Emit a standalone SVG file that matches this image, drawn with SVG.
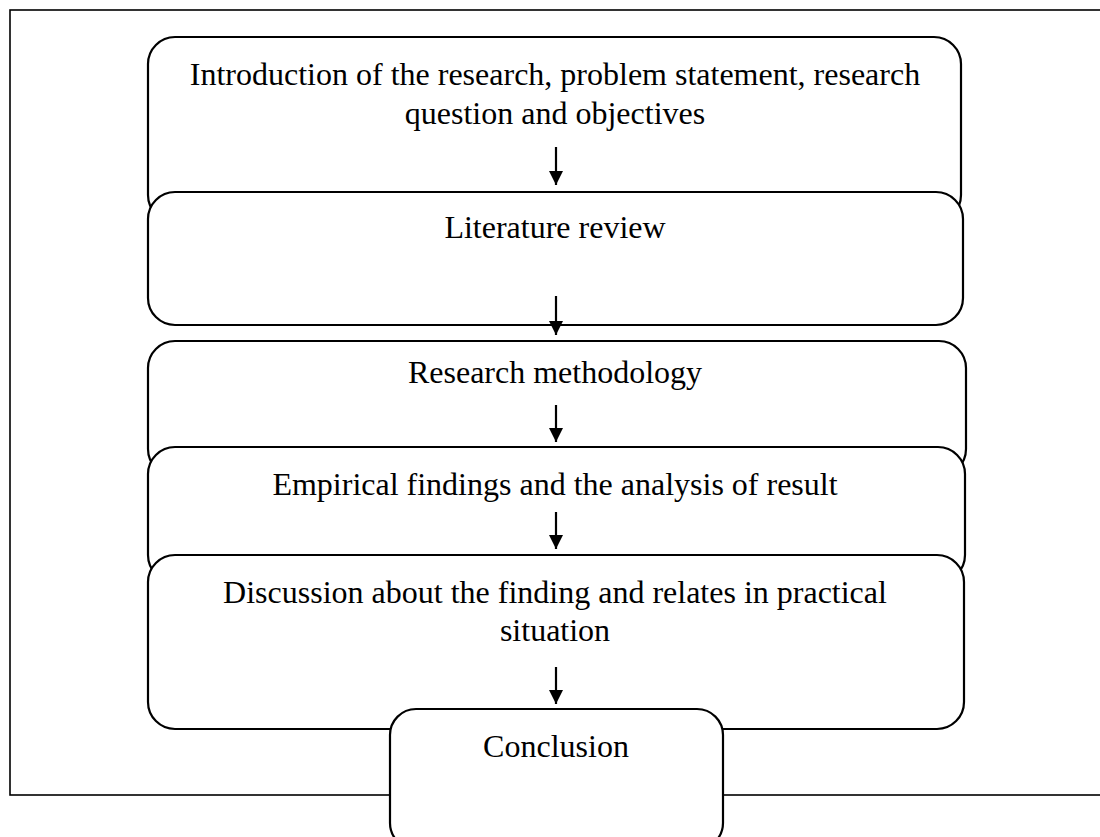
<svg xmlns="http://www.w3.org/2000/svg" width="1100" height="837" viewBox="0 0 1100 837">
<style>
.box{fill:#fff;stroke:#000;stroke-width:2.2}
.frame{fill:none;stroke:#000;stroke-width:1.6}
.t{font-family:"Liberation Serif","Times New Roman",serif;font-size:32px;fill:#000;text-anchor:middle}
.arr{stroke:#000;stroke-width:2.2;fill:none}
</style>
<defs>
<marker id="ah" viewBox="0 0 14 14" refX="14" refY="7" markerWidth="14" markerHeight="14" markerUnits="userSpaceOnUse" orient="auto">
<path d="M0,0 L14,7 L0,14 Z" fill="#000"/>
</marker>
</defs>
<rect class="frame" x="10" y="10" width="1100" height="785"/>
<g id="n1"><rect class="box" x="148" y="37" width="813" height="185" rx="27"/>
<text class="t" x="555" y="85">Introduction of the research, problem statement, research</text>
<text class="t" x="555" y="124">question and objectives</text></g>
<g id="n2"><rect class="box" x="148" y="192" width="815" height="133" rx="27"/>
<text class="t" x="555" y="238">Literature review</text></g>
<g id="n3"><rect class="box" x="148" y="341" width="818" height="135" rx="27"/>
<text class="t" x="555" y="383">Research methodology</text></g>
<g id="n4"><rect class="box" x="148" y="447" width="817" height="135" rx="27"/>
<text class="t" x="555" y="495">Empirical findings and the analysis of result</text></g>
<g id="n5"><rect class="box" x="148" y="555" width="816" height="174" rx="27"/>
<text class="t" x="555" y="603">Discussion about the finding and relates in practical</text>
<text class="t" x="555" y="641">situation</text></g>
<g id="n6"><rect class="box" x="390" y="709" width="333" height="140" rx="26"/>
<text class="t" x="556" y="757">Conclusion</text></g>
<g id="connectors">
<line class="arr" x1="556" y1="147" x2="556" y2="185" marker-end="url(#ah)"/>
<line class="arr" x1="556" y1="296" x2="556" y2="335" marker-end="url(#ah)"/>
<line class="arr" x1="556" y1="405" x2="556" y2="442" marker-end="url(#ah)"/>
<line class="arr" x1="556" y1="512" x2="556" y2="549" marker-end="url(#ah)"/>
<line class="arr" x1="556" y1="667" x2="556" y2="704" marker-end="url(#ah)"/>
</g>
</svg>
